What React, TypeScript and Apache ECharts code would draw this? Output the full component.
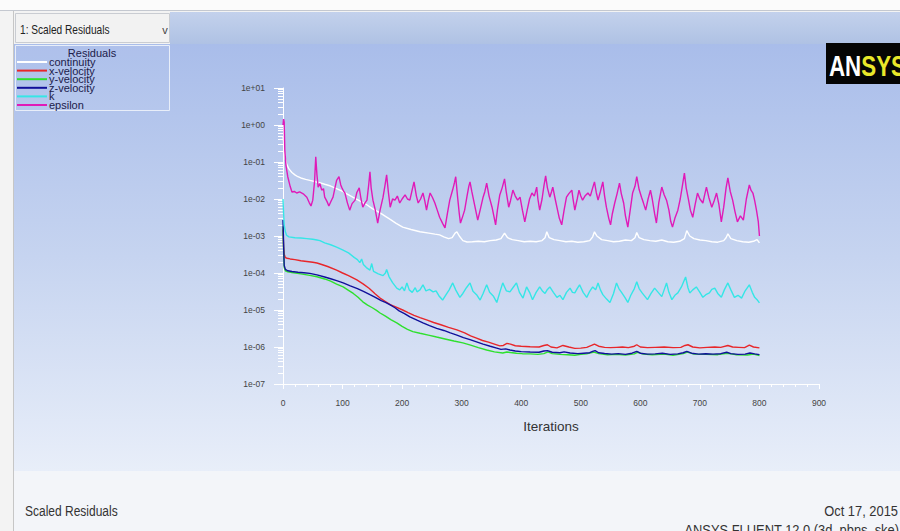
import React, { useEffect, useRef } from "react";
import * as echarts from "echarts";

const FONT = '"Liberation Sans", Arial, sans-serif';

const seriesNames = ["continuity", "x-velocity", "y-velocity", "z-velocity", "k", "epsilon"];
const seriesColors = ["#ffffff", "#e8262a", "#2ee02e", "#10109a", "#35e6e6", "#e01ab8"];

const xMin = 0;
const xMax = 900;
const xStep = 100;
const yMin = 1e-7;
const yMax = 10;

const continuity: [number, number][] = [
  [0, 0.5], [1, 0.35], [2, 0.2], [4, 0.12], [6, 9.0e-2], [10, 6.5e-2], [15, 5.2e-2], [20, 4.5e-2],
  [25, 4.0e-2], [30, 3.7e-2], [38, 3.4e-2], [45, 3.2e-2], [52, 3.0e-2], [60, 2.8e-2], [70, 2.5e-2],
  [80, 2.24e-2], [90, 1.9e-2], [100, 1.6e-2], [108, 1.35e-2], [117, 1.12e-2], [128, 9.0e-3],
  [140, 7.1e-3], [150, 5.5e-3], [163, 4.2e-3], [172, 3.4e-3], [180, 2.8e-3], [190, 2.2e-3],
  [201, 1.74e-3], [215, 1.5e-3], [230, 1.3e-3], [245, 1.2e-3], [255, 1.12e-3], [263, 1.07e-3],
  [270, 9.5e-4], [278, 8.5e-4], [284, 9.0e-4], [289, 1.2e-3], [292, 1.3e-3], [296, 1.0e-3],
  [302, 7.5e-4], [309, 6.9e-4], [318, 7.0e-4], [328, 7.2e-4], [338, 7.0e-4], [348, 7.5e-4],
  [358, 7.8e-4], [366, 8.5e-4], [372, 1.2e-3], [377, 9.0e-4], [385, 8.0e-4], [395, 7.5e-4],
  [405, 7.0e-4], [415, 7.2e-4], [425, 7.0e-4], [435, 7.5e-4], [440, 9.0e-4], [443, 1.3e-3],
  [447, 9.0e-4], [455, 8.0e-4], [465, 7.5e-4], [475, 7.0e-4], [485, 7.2e-4], [495, 6.8e-4],
  [505, 7.0e-4], [515, 7.5e-4], [520, 9.5e-4], [523, 1.3e-3], [527, 1.0e-3], [535, 8.0e-4],
  [545, 7.5e-4], [555, 7.0e-4], [565, 7.2e-4], [575, 7.8e-4], [585, 7.5e-4], [591, 9.0e-4],
  [594, 1.25e-3], [598, 9.0e-4], [606, 8.0e-4], [616, 7.5e-4], [626, 7.2e-4], [636, 7.8e-4],
  [646, 7.0e-4], [656, 6.8e-4], [666, 7.2e-4], [674, 8.5e-4], [678, 1.4e-3], [683, 1.0e-3],
  [690, 8.5e-4], [700, 7.8e-4], [710, 7.5e-4], [720, 7.0e-4], [730, 6.8e-4], [740, 7.5e-4],
  [744, 9.0e-4], [747, 1.15e-3], [752, 8.5e-4], [762, 7.5e-4], [772, 7.0e-4], [782, 6.8e-4],
  [790, 7.2e-4], [796, 8.0e-4], [800, 6.5e-4],
];

const xVelocity: [number, number][] = [
  [0, 1.5e-3], [1, 5.0e-4], [2, 3.2e-4], [4, 2.6e-4], [7, 2.5e-4], [12, 2.4e-4], [20, 2.3e-4],
  [30, 2.15e-4], [40, 2.05e-4], [50, 1.95e-4], [57, 1.86e-4], [65, 1.7e-4], [75, 1.5e-4],
  [90, 1.2e-4], [100, 1.0e-4], [110, 8.5e-5], [124, 6.5e-5], [135, 5.0e-5], [145, 3.8e-5],
  [155, 2.7e-5], [163, 2.1e-5], [172, 1.7e-5], [180, 1.4e-5], [190, 1.2e-5], [201, 1.0e-5],
  [210, 8.5e-6], [220, 7.2e-6], [230, 6.2e-6], [241, 5.4e-6], [253, 4.6e-6], [265, 4.0e-6],
  [278, 3.4e-6], [292, 2.9e-6], [305, 2.4e-6], [315, 2.0e-6], [325, 1.74e-6], [335, 1.5e-6],
  [345, 1.35e-6], [355, 1.2e-6], [364, 1.07e-6], [370, 1.1e-6], [376, 1.25e-6], [382, 1.2e-6],
  [390, 1.08e-6], [400, 1.05e-6], [415, 1.02e-6], [430, 1.0e-6], [438, 1.1e-6], [444, 1.15e-6],
  [450, 1.0e-6], [460, 9.5e-7], [470, 1.1e-6], [480, 1.0e-6], [490, 9.2e-7], [500, 9.3e-7],
  [510, 9.8e-7], [518, 1.1e-6], [523, 1.2e-6], [530, 1.05e-6], [540, 9.8e-7], [550, 9.6e-7],
  [560, 9.8e-7], [570, 1.0e-6], [580, 9.6e-7], [590, 1.05e-6], [594, 1.15e-6], [600, 1.0e-6],
  [612, 9.6e-7], [625, 9.8e-7], [640, 1.0e-6], [655, 9.6e-7], [668, 9.8e-7], [675, 1.1e-6],
  [680, 1.15e-6], [688, 1.0e-6], [700, 9.5e-7], [712, 9.8e-7], [725, 1.0e-6], [735, 9.8e-7],
  [747, 1.1e-6], [755, 1.0e-6], [765, 9.8e-7], [775, 9.6e-7], [783, 1.12e-6], [790, 1.0e-6],
  [800, 9.5e-7],
];

const yVelocity: [number, number][] = [
  [0, 1.8e-3], [1, 4.0e-4], [2, 1.4e-4], [4, 1.15e-4], [8, 1.08e-4], [15, 1.03e-4], [30, 9.5e-5],
  [45, 8.6e-5], [57, 7.9e-5], [70, 6.9e-5], [80, 6.0e-5], [90, 5.0e-5], [101, 4.2e-5],
  [110, 3.4e-5], [118, 2.8e-5], [126, 2.2e-5], [134, 1.66e-5], [142, 1.35e-5], [150, 1.15e-5],
  [157, 9.8e-6], [163, 8.3e-6], [172, 6.8e-6], [181, 5.5e-6], [191, 4.5e-6], [200, 3.6e-6],
  [209, 3.0e-6], [218, 2.6e-6], [230, 2.35e-6], [244, 2.1e-6], [258, 1.86e-6], [272, 1.65e-6],
  [287, 1.45e-6], [302, 1.29e-6], [315, 1.12e-6], [328, 9.6e-7], [342, 8.3e-7], [355, 7.4e-7],
  [369, 6.9e-7], [376, 7.3e-7], [382, 7.1e-7], [392, 6.8e-7], [402, 6.6e-7], [415, 6.5e-7],
  [428, 6.3e-7], [438, 6.6e-7], [445, 7.4e-7], [452, 6.6e-7], [465, 6.3e-7], [478, 6.2e-7],
  [490, 6.0e-7], [500, 6.3e-7], [510, 6.5e-7], [522, 7.3e-7], [530, 6.6e-7], [545, 6.2e-7],
  [560, 6.3e-7], [575, 6.1e-7], [590, 6.5e-7], [595, 7.2e-7], [605, 6.4e-7], [620, 6.2e-7],
  [640, 6.4e-7], [655, 6.0e-7], [672, 6.6e-7], [679, 7.3e-7], [690, 6.4e-7], [710, 6.3e-7],
  [730, 6.2e-7], [746, 6.8e-7], [760, 6.2e-7], [780, 6.1e-7], [790, 6.4e-7], [800, 5.9e-7],
];

const zVelocity: [number, number][] = [
  [0, 2.7e-3], [1, 6.0e-4], [2, 1.6e-4], [4, 1.25e-4], [8, 1.15e-4], [15, 1.1e-4], [25, 1.05e-4],
  [35, 1.02e-4], [45, 9.8e-5], [57, 8.9e-5], [70, 7.8e-5], [80, 7.0e-5], [90, 6.2e-5],
  [101, 5.4e-5], [113, 4.5e-5], [125, 3.8e-5], [135, 3.2e-5], [146, 2.6e-5], [155, 2.2e-5],
  [165, 1.8e-5], [172, 1.6e-5], [180, 1.38e-5], [188, 1.15e-5], [195, 9.5e-6], [204, 8.0e-6],
  [213, 6.5e-6], [225, 5.3e-6], [235, 4.5e-6], [246, 3.8e-6], [258, 3.2e-6], [270, 2.8e-6],
  [281, 2.4e-6], [292, 2.1e-6], [303, 1.8e-6], [314, 1.58e-6], [325, 1.38e-6], [336, 1.2e-6],
  [348, 1.05e-6], [359, 9.3e-7], [366, 8.6e-7], [374, 8.9e-7], [381, 8.3e-7], [390, 7.8e-7],
  [400, 7.5e-7], [415, 7.3e-7], [430, 7.2e-7], [438, 7.8e-7], [444, 8.0e-7], [452, 7.2e-7],
  [465, 7.0e-7], [472, 7.4e-7], [482, 6.9e-7], [495, 6.6e-7], [505, 6.8e-7], [515, 7.0e-7],
  [520, 7.6e-7], [524, 8.0e-7], [530, 7.0e-7], [540, 6.7e-7], [552, 6.4e-7], [563, 6.6e-7],
  [575, 6.3e-7], [586, 6.8e-7], [594, 7.6e-7], [600, 6.8e-7], [612, 6.4e-7], [625, 6.5e-7],
  [637, 6.8e-7], [650, 6.3e-7], [663, 6.5e-7], [672, 7.0e-7], [678, 7.6e-7], [686, 6.8e-7],
  [698, 6.4e-7], [710, 6.6e-7], [722, 6.4e-7], [735, 6.6e-7], [745, 7.2e-7], [752, 6.6e-7],
  [764, 6.3e-7], [776, 6.4e-7], [784, 6.9e-7], [792, 6.5e-7], [800, 6.2e-7],
];

const kResidual: [number, number][] = [
  [0, 1.0e-2], [1, 4.0e-3], [2, 2.0e-3], [4, 1.3e-3], [6, 1.05e-3], [10, 9.5e-4], [20, 9.0e-4],
  [30, 8.8e-4], [40, 8.5e-4], [50, 8.2e-4], [57, 7.8e-4], [62, 7.5e-4], [70, 6.5e-4], [80, 5.8e-4],
  [90, 5.0e-4], [100, 4.2e-4], [110, 3.5e-4], [120, 2.6e-4], [125, 2.3e-4], [129, 1.9e-4],
  [132, 2.4e-4], [135, 1.7e-4], [140, 1.4e-4], [146, 1.2e-4], [149, 1.8e-4], [152, 1.1e-4],
  [160, 9.5e-5], [168, 8.5e-5], [172, 1.0e-4], [174, 1.25e-4], [178, 8.0e-5], [184, 5.5e-5],
  [191, 3.9e-5], [196, 3.5e-5], [200, 4.2e-5], [204, 3.3e-5], [208, 5.4e-5], [212, 3.5e-5],
  [217, 3.0e-5], [222, 4.0e-5], [225, 3.1e-5], [230, 3.5e-5], [235, 4.8e-5], [240, 3.3e-5],
  [246, 3.6e-5], [252, 3.1e-5], [257, 3.3e-5], [262, 2.4e-5], [268, 1.86e-5], [273, 2.5e-5],
  [279, 3.5e-5], [285, 5.4e-5], [290, 3.5e-5], [297, 2.2e-5], [302, 2.8e-5], [308, 4.0e-5],
  [314, 5.4e-5], [319, 3.2e-5], [325, 2.6e-5], [331, 1.86e-5], [336, 2.8e-5], [342, 4.8e-5],
  [347, 3.0e-5], [353, 2.4e-5], [359, 1.6e-5], [364, 3.0e-5], [369, 5.4e-5], [375, 3.3e-5],
  [381, 3.1e-5], [386, 4.0e-5], [392, 5.4e-5], [397, 3.0e-5], [403, 2.1e-5], [409, 4.2e-5],
  [414, 3.0e-5], [419, 1.9e-5], [425, 3.0e-5], [431, 4.2e-5], [436, 3.2e-5], [440, 2.8e-5],
  [444, 3.6e-5], [448, 4.2e-5], [454, 3.0e-5], [460, 2.2e-5], [465, 2.5e-5], [470, 1.9e-5],
  [476, 3.0e-5], [482, 3.9e-5], [486, 3.0e-5], [490, 2.9e-5], [494, 3.8e-5], [498, 4.8e-5],
  [504, 3.0e-5], [510, 2.2e-5], [515, 3.2e-5], [520, 4.2e-5], [525, 3.5e-5], [529, 5.4e-5],
  [533, 3.5e-5], [537, 2.6e-5], [543, 2.0e-5], [549, 1.6e-5], [555, 2.8e-5], [560, 5.4e-5],
  [564, 3.8e-5], [569, 2.9e-5], [574, 2.2e-5], [579, 1.6e-5], [584, 2.5e-5], [590, 3.8e-5],
  [594, 5.8e-5], [598, 3.8e-5], [603, 2.9e-5], [608, 2.3e-5], [612, 1.9e-5], [618, 2.8e-5],
  [624, 3.9e-5], [630, 3.0e-5], [636, 2.3e-5], [640, 3.5e-5], [644, 5.4e-5], [648, 3.0e-5],
  [653, 1.9e-5], [658, 2.5e-5], [663, 2.9e-5], [669, 4.2e-5], [676, 7.8e-5], [680, 4.0e-5],
  [683, 2.9e-5], [688, 3.5e-5], [694, 4.2e-5], [700, 3.0e-5], [705, 2.2e-5], [710, 2.6e-5],
  [716, 2.9e-5], [720, 3.6e-5], [725, 3.9e-5], [730, 2.8e-5], [736, 2.2e-5], [741, 3.5e-5],
  [747, 5.4e-5], [752, 3.5e-5], [758, 2.2e-5], [764, 2.5e-5], [770, 2.1e-5], [776, 3.3e-5],
  [783, 4.8e-5], [788, 3.0e-5], [792, 2.2e-5], [796, 1.9e-5], [800, 1.55e-5],
];

const epsilon: [number, number][] = [
  [0, 1.0], [1, 1.45], [2, 1.2], [3, 0.21], [5, 8.0e-2], [8, 4.0e-2], [12, 2.2e-2], [15, 1.55e-2],
  [19, 1.6e-2], [23, 1.45e-2], [28, 1.55e-2], [34, 1.38e-2], [40, 1.12e-2], [44, 8.0e-3],
  [47, 6.5e-3], [50, 9.3e-3], [53, 3.0e-2], [55, 1.38e-1], [57, 4.5e-2], [59, 2.1e-2],
  [62, 2.6e-2], [65, 1.74e-2], [68, 1.9e-2], [70, 1.12e-2], [74, 8.5e-3], [77, 6.5e-3],
  [81, 9.0e-3], [84, 1.12e-2], [87, 1.9e-2], [90, 3.2e-2], [94, 4.0e-2], [97, 2.4e-2],
  [99, 2.0e-2], [102, 1.6e-2], [104, 1.45e-2], [108, 8.0e-3], [112, 5.0e-3], [116, 7.5e-3],
  [121, 9.3e-3], [124, 1.5e-2], [128, 2.0e-2], [131, 1.0e-2], [134, 6.0e-3], [138, 8.0e-3],
  [141, 9.3e-3], [144, 2.5e-2], [146, 5.4e-2], [148, 2.0e-2], [151, 9.3e-3], [155, 5.0e-3],
  [159, 2.24e-3], [163, 5.0e-3], [168, 1.12e-2], [171, 2.2e-2], [174, 4.5e-2], [177, 1.5e-2],
  [180, 6.0e-3], [184, 1.0e-2], [188, 9.3e-3], [192, 1.2e-2], [196, 7.8e-3], [200, 1.0e-2],
  [205, 1.29e-2], [209, 1.0e-2], [213, 9.3e-3], [217, 1.8e-2], [220, 2.9e-2], [224, 1.2e-2],
  [227, 7.8e-3], [231, 1.0e-2], [235, 1.45e-2], [238, 9.0e-3], [241, 5.0e-3], [244, 9.0e-3],
  [247, 1.45e-2], [251, 1.1e-2], [255, 7.8e-3], [259, 5.0e-3], [263, 3.2e-3], [268, 2.2e-3],
  [272, 1.66e-3], [276, 4.0e-3], [280, 9.3e-3], [285, 1.8e-2], [288, 2.8e-2], [290, 4.0e-2],
  [293, 1.2e-2], [296, 4.0e-3], [298, 2.24e-3], [302, 3.5e-3], [305, 5.0e-3], [309, 1.2e-2],
  [312, 2.2e-2], [314, 2.9e-2], [317, 1.6e-2], [319, 1.12e-2], [323, 5.5e-3], [327, 2.7e-3],
  [331, 5.0e-3], [336, 1.12e-2], [339, 1.6e-2], [342, 2.7e-2], [346, 1.2e-2], [351, 6.0e-3],
  [354, 3.5e-3], [357, 2.0e-3], [360, 5.0e-3], [364, 1.29e-2], [368, 2.0e-2], [372, 3.5e-2],
  [375, 1.5e-2], [379, 6.0e-3], [382, 9.0e-3], [386, 1.74e-2], [390, 1.2e-2], [394, 9.3e-3],
  [398, 1.12e-2], [402, 5.0e-3], [406, 2.4e-3], [410, 5.0e-3], [414, 1.0e-2], [418, 1.45e-2],
  [422, 1.2e-2], [426, 2.1e-2], [428, 1.0e-2], [431, 5.0e-3], [435, 1.0e-2], [438, 2.2e-2],
  [441, 4.2e-2], [444, 2.0e-2], [448, 1.12e-2], [451, 1.6e-2], [453, 2.1e-2], [457, 1.0e-2],
  [461, 5.0e-3], [464, 3.0e-3], [468, 2.0e-3], [472, 5.0e-3], [476, 1.12e-2], [480, 1.4e-2],
  [485, 1.74e-2], [487, 1.0e-2], [490, 5.0e-3], [494, 1.0e-2], [497, 1.74e-2], [500, 1.2e-2],
  [503, 9.3e-3], [507, 1.2e-2], [512, 1.45e-2], [516, 1.2e-2], [520, 2.0e-2], [523, 2.9e-2],
  [526, 1.5e-2], [529, 9.3e-3], [533, 1.6e-2], [537, 2.9e-2], [540, 1.2e-2], [543, 6.0e-3],
  [547, 3.0e-3], [550, 2.0e-3], [553, 4.0e-3], [557, 7.8e-3], [561, 1.4e-2], [565, 2.7e-2],
  [568, 1.4e-2], [572, 7.8e-3], [575, 3.5e-3], [579, 1.74e-3], [583, 5.0e-3], [587, 1.45e-2],
  [591, 2.2e-2], [594, 4.0e-2], [598, 1.8e-2], [602, 1.12e-2], [605, 8.0e-3], [609, 5.0e-3],
  [613, 1.0e-2], [617, 1.74e-2], [620, 1.0e-2], [624, 4.0e-3], [627, 2.24e-3], [631, 8.0e-3],
  [636, 2.1e-2], [640, 1.3e-2], [644, 9.3e-3], [648, 5.0e-3], [651, 2.5e-3], [654, 1.74e-3],
  [658, 3.0e-3], [663, 5.0e-3], [667, 1.0e-2], [671, 2.5e-2], [674, 5.0e-2], [677, 2.0e-2],
  [681, 9.3e-3], [684, 5.0e-3], [688, 3.2e-3], [692, 7.0e-3], [696, 1.45e-2], [700, 1.0e-2],
  [705, 7.8e-3], [708, 1.3e-2], [711, 2.1e-2], [715, 1.1e-2], [720, 6.0e-3], [724, 9.0e-3],
  [728, 1.45e-2], [732, 7.0e-3], [736, 2.4e-3], [740, 6.0e-3], [744, 2.0e-2], [747, 3.7e-2],
  [751, 1.6e-2], [755, 9.3e-3], [759, 4.5e-3], [763, 2.4e-3], [768, 3.5e-3], [773, 2.7e-3],
  [778, 1.0e-2], [783, 2.4e-2], [786, 1.7e-2], [789, 1.45e-2], [792, 9.0e-3], [795, 5.0e-3],
  [798, 2.5e-3], [800, 1.0e-3],
];

const seriesData = [continuity, xVelocity, yVelocity, zVelocity, kResidual, epsilon];

function formatExp(v: number): string {
  const e = Math.round(Math.log10(v));
  const s = e >= 0 ? "+" : "-";
  const a = Math.abs(e);
  return "1e" + s + (a < 10 ? "0" + a : String(a));
}

function label(text: string, x: number, y: number, size: number, sx: number, align: string, color = "#333333") {
  return {
    type: "text",
    z: 10,
    x,
    y,
    scaleX: sx,
    style: { text, x: 0, y: 0, fontSize: size, fontFamily: FONT, fill: color, align, verticalAlign: "middle" },
  };
}

export default function App() {
  const ref = useRef<HTMLDivElement>(null);

  useEffect(() => {
    document.body.style.margin = "0";
    const chart = echarts.init(ref.current as HTMLDivElement, null, { renderer: "svg" });

    const minorVals: number[] = [];
    for (let e = -7; e < 1; e++) {
      for (let m = 2; m <= 9; m++) minorVals.push(m * Math.pow(10, e));
    }

    const option: any = {
      animation: false,
      backgroundColor: "transparent",
      grid: { left: 283, right: 81, top: 88, bottom: 147, containLabel: false },
      legend: {
        data: seriesNames,
        orient: "vertical",
        left: 17,
        top: 56.5,
        padding: 0,
        itemWidth: 30,
        itemHeight: 2,
        itemGap: -2.4,
        icon: "rect",
        selectedMode: false,
        textStyle: {
          fontSize: 11,
          fontFamily: FONT,
          color: "#20204a",
          padding: [0, 0, 0, -3],
        },
      },
      xAxis: {
        type: "value",
        min: xMin,
        max: xMax,
        interval: xStep,
        name: "Iterations",
        nameLocation: "middle",
        nameGap: 35,
        nameTextStyle: { fontSize: 13.5, color: "#333333", fontFamily: FONT },
        axisLine: { show: true, onZero: false, lineStyle: { color: "#ffffff", width: 1 } },
        axisTick: { show: true, length: 5, lineStyle: { color: "#ffffff" } },
        minorTick: { show: true, splitNumber: 5, length: 3, lineStyle: { color: "#ffffff" } },
        axisLabel: { color: "#444444", fontSize: 8.5, fontFamily: FONT, margin: 14 },
        splitLine: { show: false },
      },
      yAxis: [
        {
          type: "log",
          logBase: 10,
          min: yMin,
          max: yMax,
          splitNumber: 8,
          position: "left",
          axisLine: { show: true, lineStyle: { color: "#ffffff", width: 1 } },
          axisTick: { show: true, length: 9, lineStyle: { color: "#ffffff" } },
          axisLabel: { color: "#444444", fontSize: 8.5, fontFamily: FONT, margin: 18, formatter: formatExp },
          splitLine: { show: false },
        },
        {
          type: "log",
          logBase: 10,
          min: yMin,
          max: yMax,
          position: "left",
          axisLine: { show: false },
          axisTick: { show: true, length: 5, customValues: minorVals, lineStyle: { color: "#ffffff" } },
          axisLabel: { show: false },
          splitLine: { show: false },
        },
      ],
      graphic: [
        { type: "rect", z: -10, shape: { x: 0, y: 0, width: 900, height: 531 }, style: { fill: "#f3f3f3" } },
        { type: "rect", z: -10, shape: { x: 0, y: 0, width: 900, height: 10 }, style: { fill: "#fbfbfb" } },
        { type: "line", z: -9, shape: { x1: 0, y1: 10.5, x2: 900, y2: 10.5 }, style: { stroke: "#c4c8d0", lineWidth: 1 } },
        {
          type: "rect", z: -10, shape: { x: 170, y: 12, width: 730, height: 32 },
          style: { fill: new echarts.graphic.LinearGradient(0, 0, 0, 1, [{ offset: 0, color: "#c3d1ec" }, { offset: 1, color: "#afc2e4" }]) },
        },
        {
          type: "rect", z: -10, shape: { x: 14, y: 44, width: 886, height: 427 },
          style: {
            fill: new echarts.graphic.LinearGradient(0, 0, 0, 1, [
              { offset: 0, color: "#a9bdea" },
              { offset: 0.5, color: "#c6d4f0" },
              { offset: 1, color: "#e8eef9" },
            ]),
          },
        },
        { type: "rect", z: -10, shape: { x: 14, y: 471, width: 886, height: 60 }, style: { fill: "#f3f5f9" } },
        { type: "line", z: -9, shape: { x1: 13.5, y1: 11, x2: 13.5, y2: 531 }, style: { stroke: "#c6c6c6", lineWidth: 1 } },
        { type: "rect", z: -9, shape: { x: 15.5, y: 13.5, width: 154, height: 29 }, style: { fill: "#f2f2f2", stroke: "#c9ccd2", lineWidth: 1 } },
        label("1: Scaled Residuals", 20, 28.5, 13, 0.78, "left", "#222222"),
        label("v", 165, 30, 11, 1, "center", "#444444"),
        { type: "rect", z: -8, shape: { x: 15.5, y: 45.5, width: 154, height: 65 }, style: { fill: "rgba(255,255,255,0.06)", stroke: "#e8eef9", lineWidth: 1 } },
        label("Residuals", 92, 53, 11, 1, "center", "#20204a"),
        { type: "rect", z: 5, shape: { x: 826, y: 43, width: 74, height: 41 }, style: { fill: "#050505" } },
        {
          type: "text",
          z: 10,
          x: 829,
          y: 65.5,
          scaleX: 0.77,
          style: {
            text: "{a|AN}{b|SYS}",
            x: 0,
            y: 0,
            align: "left",
            verticalAlign: "middle",
            rich: {
              a: { fill: "#ffffff", fontSize: 29, fontWeight: "bold", fontFamily: FONT },
              b: { fill: "#e9e82a", fontSize: 29, fontWeight: "bold", fontFamily: FONT },
            },
          },
        },
        label("Scaled Residuals", 25, 511, 15, 0.8, "left"),
        label("Oct 17, 2015", 898, 511, 15, 0.86, "right"),
        label("ANSYS FLUENT 12.0 (3d, pbns, ske)", 899, 530, 15, 0.86, "right"),
      ],
      series: seriesNames.map((name, i) => ({
        type: "line",
        name,
        data: seriesData[i],
        xAxisIndex: 0,
        yAxisIndex: 0,
        showSymbol: false,
        symbol: "none",
        silent: true,
        lineStyle: { color: seriesColors[i], width: 1.4 },
        itemStyle: { color: seriesColors[i] },
        emphasis: { disabled: true },
      })),
    };

    chart.setOption(option);
    return () => chart.dispose();
  }, []);

  return <div ref={ref} style={{ width: 900, height: 531, position: "absolute", left: 0, top: 0 }} />;
}
